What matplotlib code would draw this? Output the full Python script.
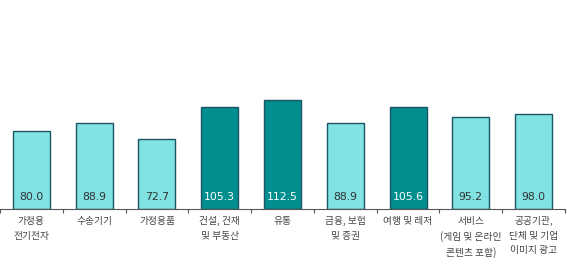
import matplotlib
matplotlib.use("Agg")
import matplotlib.pyplot as plt

categories = ["가정용\n전기전자", "수송기기", "가정용품", "건설, 건재\n및 부동산", "유통",
              "금융, 보험\n및 증권", "여행 및 레저", "서비스\n(게임 및 온라인\n콘텐츠 포함)",
              "공공기관,\n단체 및 기업\n이미지 광고"]
values = [80.0, 88.9, 72.7, 105.3, 112.5, 88.9, 105.6, 95.2, 98.0]
highlight = [False, False, False, True, True, False, True, False, False]

plt.rcParams['font.family'] = ['Noto Sans CJK KR', 'DejaVu Sans']

fig = plt.figure(figsize=(5.67, 2.64), dpi=100)
ax = fig.add_axes([0.0, 55/264, 565/567, 0.514])

light = "#80E2E2"
dark = "#008E8E"
edge = "#1E5566"
x = list(range(len(values)))
colors = [dark if h else light for h in highlight]
ax.bar(x, values, width=0.59, color=colors, edgecolor=edge, linewidth=1.0, zorder=2)
for i, (v, h) in enumerate(zip(values, highlight)):
    ax.text(i, 12, f"{v:.1f}", ha="center", va="center", fontsize=7.8,
            color="white" if h else "#333333", family=['DejaVu Sans'])

ax.set_xlim(-0.5, len(values) - 0.5)
ax.set_ylim(0, 140)
for s in ["top", "right", "left"]:
    ax.spines[s].set_visible(False)
ax.spines["bottom"].set_color("#555555")
ax.spines["bottom"].set_linewidth(0.8)
ax.set_yticks([])
ax.set_xticks([i + 0.5 for i in range(-1, len(values))])
ax.set_xticklabels([])
ax.tick_params(axis="x", direction="out", length=3, color="#555555", width=0.8)
for i, c in enumerate(categories):
    ax.text(i, -7, c, ha="center", va="top", fontsize=7, color="#444444",
            linespacing=1.6, transform=ax.transData)

fig.savefig("out.png", dpi=100, facecolor="white")
